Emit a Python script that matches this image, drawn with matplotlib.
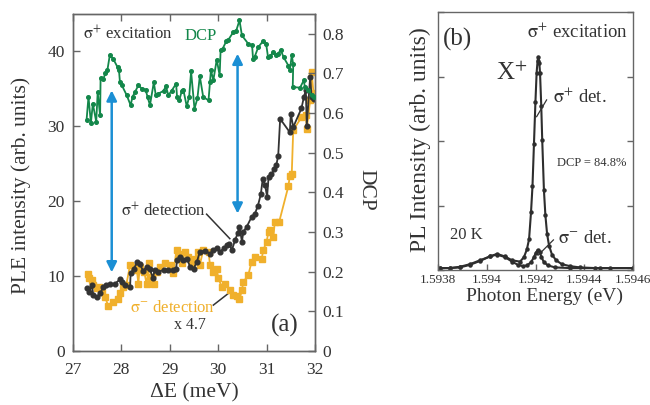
import matplotlib
matplotlib.use('Agg')
import matplotlib.pyplot as plt

plt.rcParams['font.family'] = ['Liberation Serif', 'DejaVu Serif']
plt.rcParams['mathtext.fontset'] = 'stix'

# ---------------- data: panel (a) ----------------
dcp_E = [27.28, 27.32, 27.37, 27.41, 27.48, 27.51, 27.56, 27.57, 27.63, 27.67,
         27.71, 27.76, 27.83, 27.92, 27.95, 27.97, 28.01, 28.11, 28.19, 28.23,
         28.28, 28.35, 28.42, 28.50, 28.54, 28.59, 28.67, 28.71, 28.76, 28.87,
         28.92, 28.97, 29.04, 29.13, 29.15, 29.20, 29.25, 29.28, 29.35, 29.40,
         29.44, 29.51, 29.57, 29.62, 29.69, 29.80, 29.83, 29.85, 29.90, 29.97,
         30.03, 30.05, 30.09, 30.17, 30.21, 30.31, 30.37, 30.44, 30.49, 30.62,
         30.70, 30.72, 30.75, 30.83, 30.93, 30.99, 31.03, 31.08, 31.14, 31.19,
         31.24, 31.29, 31.35, 31.45, 31.48, 31.52, 31.55, 31.54, 31.69, 31.77,
         31.79, 31.86, 31.93, 31.97]
dcp_val = [0.582, 0.641, 0.575, 0.624, 0.578, 0.653, 0.594, 0.689, 0.687, 0.701,
           0.708, 0.746, 0.737, 0.716, 0.708, 0.678, 0.670, 0.645, 0.620, 0.641,
           0.653, 0.670, 0.662, 0.659, 0.641, 0.620, 0.678, 0.645, 0.649, 0.656,
           0.668, 0.645, 0.657, 0.674, 0.641, 0.634, 0.657, 0.659, 0.617, 0.641,
           0.705, 0.611, 0.637, 0.693, 0.641, 0.632, 0.678, 0.708, 0.683, 0.735,
           0.695, 0.760, 0.762, 0.782, 0.785, 0.804, 0.807, 0.834, 0.796, 0.775,
           0.771, 0.737, 0.741, 0.767, 0.782, 0.775, 0.741, 0.745, 0.754, 0.746,
           0.750, 0.760, 0.741, 0.720, 0.708, 0.746, 0.723, 0.666, 0.664, 0.683,
           0.666, 0.659, 0.645, 0.641]

sp_E = [27.28, 27.34, 27.39, 27.42, 27.49, 27.56, 27.63, 27.68, 27.76, 27.87,
        27.97, 28.01, 28.07, 28.18, 28.19, 28.25, 28.33, 28.38, 28.45, 28.52,
        28.59, 28.65, 28.69, 28.76, 28.87, 28.97, 29.07, 29.13, 29.15, 29.21,
        29.28, 29.35, 29.42, 29.49, 29.56, 29.62, 29.73, 29.83, 29.90, 29.97,
        30.04, 30.11, 30.18, 30.23, 30.28, 30.35, 30.40, 30.44, 30.49, 30.52,
        30.59, 30.69, 30.76, 30.82, 30.88, 30.92, 30.97, 31.01, 31.04, 31.10,
        31.16, 31.20, 31.24, 31.28, 31.48, 31.50, 31.55, 31.72, 31.77, 31.81,
        31.83, 31.90, 31.93, 31.97]
sp_val = [8.35, 7.9, 8.8, 7.47, 7.15, 7.7, 8.58, 8.8, 8.9, 9.0,
          9.55, 9.25, 8.8, 8.58, 10.35, 10.9, 11.9, 11.6, 10.7, 11.25,
          10.9, 9.8, 10.8, 10.6, 10.8, 10.8, 10.8, 11.0, 12.1, 12.6,
          12.1, 12.35, 11.25, 11.0, 11.9, 13.25, 13.4, 13.0, 13.45, 13.7,
          13.25, 13.7, 14.1, 14.35, 13.45, 14.8, 15.7, 16.6, 14.6, 15.9,
          16.6, 17.9, 18.35, 19.4, 20.9, 23.0, 22.1, 20.6, 23.2, 23.6,
          24.3, 24.8, 26.1, 31.0, 29.2, 31.7, 29.9, 32.4, 33.9, 34.8,
          30.1, 36.6, 33.9, 33.6]

sm_E = [27.30, 27.34, 27.39, 27.42, 27.49, 27.54, 27.59, 27.66, 27.73, 27.83,
        27.94, 27.97, 28.04, 28.10, 28.18, 28.25, 28.32, 28.35, 28.38, 28.47,
        28.52, 28.58, 28.61, 28.67, 28.73, 28.80, 28.90, 29.00, 29.07, 29.14,
        29.19, 29.25, 29.31, 29.38, 29.45, 29.52, 29.59, 29.62, 29.69, 29.80,
        29.83, 29.90, 29.97, 30.00, 30.07, 30.14, 30.24, 30.31, 30.38, 30.44,
        30.49, 30.52, 30.62, 30.69, 30.76, 30.90, 30.93, 31.00, 31.04, 31.08,
        31.14, 31.17, 31.26, 31.45, 31.48, 31.52, 31.55, 31.72, 31.81, 31.83,
        31.90, 31.93, 31.97]
sm_val = [10.3, 9.7, 9.5, 8.8, 8.35, 8.6, 7.9, 7.25, 6.0, 6.6,
          7.0, 7.7, 8.6, 8.8, 11.5, 11.25, 10.8, 9.0, 11.25, 10.6,
          9.0, 11.7, 9.9, 8.9, 10.6, 11.25, 11.7, 11.5, 10.35, 13.55,
          13.0, 11.7, 13.25, 12.6, 11.6, 12.35, 13.25, 11.5, 13.45, 13.25,
          11.5, 10.6, 11.0, 9.8, 8.6, 9.0, 8.1, 7.47, 7.3, 7.0,
          8.1, 9.25, 10.1, 11.9, 12.6, 12.35, 13.45, 14.6, 15.9, 16.1,
          15.25, 17.25, 17.25, 22.0, 23.4, 23.7, 29.5, 31.2, 31.5, 29.7,
          33.5, 37.2, 34.4]

arrow_E = [27.8, 30.4]
arrow_top = [34.8, 39.7]
arrow_bottom = [10.5, 18.35]

# ---------------- data: panel (b) ----------------
pl_plus_E = [1.593807, 1.593848, 1.593889, 1.593930, 1.593971, 1.594012, 1.594041,
             1.594074, 1.594103, 1.594136, 1.594152, 1.594164, 1.594173, 1.594181,
             1.594187, 1.594193, 1.594199, 1.594204, 1.594208, 1.594211, 1.594215,
             1.594218, 1.594223, 1.594227, 1.594234, 1.594240, 1.594247, 1.594255,
             1.594267, 1.594284, 1.594308, 1.594341, 1.594382, 1.594444, 1.594505,
             1.594600]
pl_plus_I = [0.03, 0.03, 0.04, 0.08, 0.14, 0.21, 0.25, 0.21, 0.15, 0.13,
             0.20, 0.32, 0.48, 0.90, 1.30, 1.95, 2.60, 3.06, 3.25, 3.31,
             3.22, 3.06, 2.55, 2.02, 1.24, 0.85, 0.56, 0.38, 0.24, 0.15,
             0.09, 0.06, 0.04, 0.03, 0.03, 0.03]
pl_minus_E = [1.593807, 1.593848, 1.593889, 1.593930, 1.593971, 1.594012, 1.594041,
              1.594074, 1.594103, 1.594127, 1.594148, 1.594164, 1.594181, 1.594193,
              1.594201, 1.594208, 1.594216, 1.594224, 1.594234, 1.594251, 1.594280,
              1.594341, 1.594464, 1.594600]
pl_minus_I = [0.03, 0.03, 0.05, 0.09, 0.15, 0.21, 0.24, 0.20, 0.13, 0.08,
              0.06, 0.07, 0.12, 0.20, 0.27, 0.31, 0.28, 0.20, 0.12, 0.07,
              0.04, 0.03, 0.03, 0.03]

a_xticks = [27, 28, 29, 30, 31, 32]
a_yticks = [0, 10, 20, 30, 40]
a_dticks = [0, 0.1, 0.2, 0.3, 0.4, 0.5, 0.6, 0.7, 0.8]
b_xticks = [1.5938, 1.594, 1.5942, 1.5944, 1.5946]
b_xticklabels = ['1.5938', '1.594', '1.5942', '1.5944', '1.5946']
b_yticks = [0, 1, 2, 3, 4]

GREEN = '#13874a'
ORANGE = '#f0b02c'
BLACK = '#333333'
BLUE = '#1b8fd4'
SPINE = '#666666'
TXT = '#333333'

W, H = 650, 405
fig = plt.figure(figsize=(W / 100, H / 100), dpi=100)


def fx(px):
    return px / W


def fy(py):
    return 1 - py / H


axa = fig.add_axes([fx(73), fy(351), (315 - 73) / W, (351 - 14) / H])
axd = axa.twinx()
axb = fig.add_axes([fx(438.3), fy(270), (633 - 438.3) / W, (270 - 12.3) / H])

# ---------- panel (a) ----------
axa.plot(sm_E, sm_val, '-', color=ORANGE, lw=1.3, marker='s', ms=4.2, mec=ORANGE, zorder=3)
axa.plot(sp_E, sp_val, '-', color=BLACK, lw=1.3, marker='o', ms=3.4, zorder=4)
axd.plot(dcp_E, dcp_val, '-', color=GREEN, lw=1.3, marker='o', ms=2.6, zorder=3)

for xe, yt, yb in zip(arrow_E, arrow_top, arrow_bottom):
    axa.annotate('', xy=(xe, yt), xytext=(xe, yb),
                 arrowprops=dict(arrowstyle='<|-|>', color=BLUE, lw=1.8,
                                 mutation_scale=15, shrinkA=0, shrinkB=0))

axa.set_xlim(27, 32)
axa.set_ylim(0, 45)
axd.set_ylim(0, 0.85)
axa.set_xticks(a_xticks)
axa.set_yticks(a_yticks)
axd.set_yticks(a_dticks)
axd.set_yticklabels(['0' if v == 0 else f'{v:.1f}' for v in a_dticks])

axa.tick_params(axis='x', direction='in', length=5, width=1, colors=SPINE,
                labelcolor=TXT, labelsize=12.5, pad=8, top=True)
axa.tick_params(axis='y', direction='in', length=5, width=1, colors=SPINE,
                labelcolor=TXT, labelsize=12.5, pad=6, right=False)
axd.tick_params(axis='y', direction='in', length=5, width=1, colors=SPINE,
                labelcolor=TXT, labelsize=12.5, pad=5)
for ax in (axa, axd):
    for s in ax.spines.values():
        s.set_color(SPINE)
        s.set_linewidth(1)

axa.text(0.041, 0.941, r'$\mathrm{\sigma}^{+}$ excitation', transform=axa.transAxes,
         fontsize=12, color=TXT, va='center', ha='left')
axa.text(0.462, 0.935, 'DCP', transform=axa.transAxes, fontsize=12, color=GREEN,
         va='center', ha='left')
axa.text(0.197, 0.416, r'$\mathrm{\sigma}^{+}$ detection', transform=axa.transAxes,
         fontsize=12, color=TXT, va='center', ha='left')
axa.plot([29.76, 30.24], [18.27, 15.0], color=BLACK, lw=1.1)
axa.text(0.2355, 0.127, r'$\mathrm{\sigma}^{-}$ detection', transform=axa.transAxes,
         fontsize=12, color=ORANGE, va='center', ha='left')
axa.plot([29.90, 30.21], [6.13, 7.69], color=BLACK, lw=1.1)
axa.text(0.417, 0.077, 'x 4.7', transform=axa.transAxes, fontsize=11.5, color=TXT,
         va='center', ha='left')
axa.text(0.931, 0.077, '(a)', transform=axa.transAxes, fontsize=18, color=TXT,
         va='center', ha='right')

fig.text(fx(21), fy(185), 'PLE intensity (arb. units)', rotation=90, fontsize=15.5,
         color=TXT, ha='center', va='center')
fig.text(fx(194), fy(393), 'ΔE (meV)', fontsize=15.5, color=TXT,
         ha='center', va='center')
fig.text(fx(366), fy(190), 'DCP', rotation=270, fontsize=15.5, color=TXT,
         ha='center', va='center')

# ---------- panel (b) ----------
axb.plot(pl_plus_E, pl_plus_I, '-', color='#2e2e2e', lw=1.5, marker='o', ms=2.2)
axb.plot(pl_minus_E, pl_minus_I, '-', color='#2e2e2e', lw=1.5, marker='o', ms=2.2)
axb.set_xlim(1.5938, 1.5946)
axb.set_ylim(0, 4)
axb.set_xticks(b_xticks)
axb.set_xticklabels(b_xticklabels)
axb.set_yticks(b_yticks)
axb.tick_params(axis='x', direction='in', length=4, width=1, colors=SPINE,
                labelcolor=TXT, labelsize=9.5, pad=3)
axb.tick_params(axis='y', direction='in', length=4, width=1, colors=SPINE,
                left=True, right=True, labelleft=False)
for s in axb.spines.values():
    s.set_color(SPINE)
    s.set_linewidth(1)

axb.text(0.025, 0.893, '(b)', transform=axb.transAxes, fontsize=18, color=TXT,
         va='center', ha='left')
axb.text(0.974, 0.924, r'$\mathrm{\sigma}^{+}$ excitation', transform=axb.transAxes,
         fontsize=13.5, color=TXT, va='center', ha='right')
axb.text(0.296, 0.764, r'X$^{+}$', transform=axb.transAxes, fontsize=18, color=TXT,
         va='center', ha='left')
axb.text(0.589, 0.672, r'$\mathrm{\sigma}^{+}$ det.', transform=axb.transAxes,
         fontsize=13.5, color=TXT, va='center', ha='left')
axb.plot([1.594245, 1.594204], [2.64, 2.38], color=BLACK, lw=0.9)
axb.text(0.608, 0.414, 'DCP = 84.8%', transform=axb.transAxes, fontsize=9,
         color=TXT, va='center', ha='left')
axb.text(0.06, 0.136, '20 K', transform=axb.transAxes, fontsize=12, color=TXT,
         va='center', ha='left')
axb.text(0.615, 0.123, r'$\mathrm{\sigma}^{-}$ det.', transform=axb.transAxes,
         fontsize=13.5, color=TXT, va='center', ha='left')
axb.plot([1.594273, 1.594211], [0.467, 0.233], color=BLACK, lw=0.9)

fig.text(fx(420), fy(140), 'PL Intensity (arb. units)', rotation=90, fontsize=17,
         color=TXT, ha='center', va='center')
fig.text(fx(544), fy(296), 'Photon Energy (eV)', fontsize=14, color=TXT,
         ha='center', va='center')

fig.savefig('out.png', dpi=100)
